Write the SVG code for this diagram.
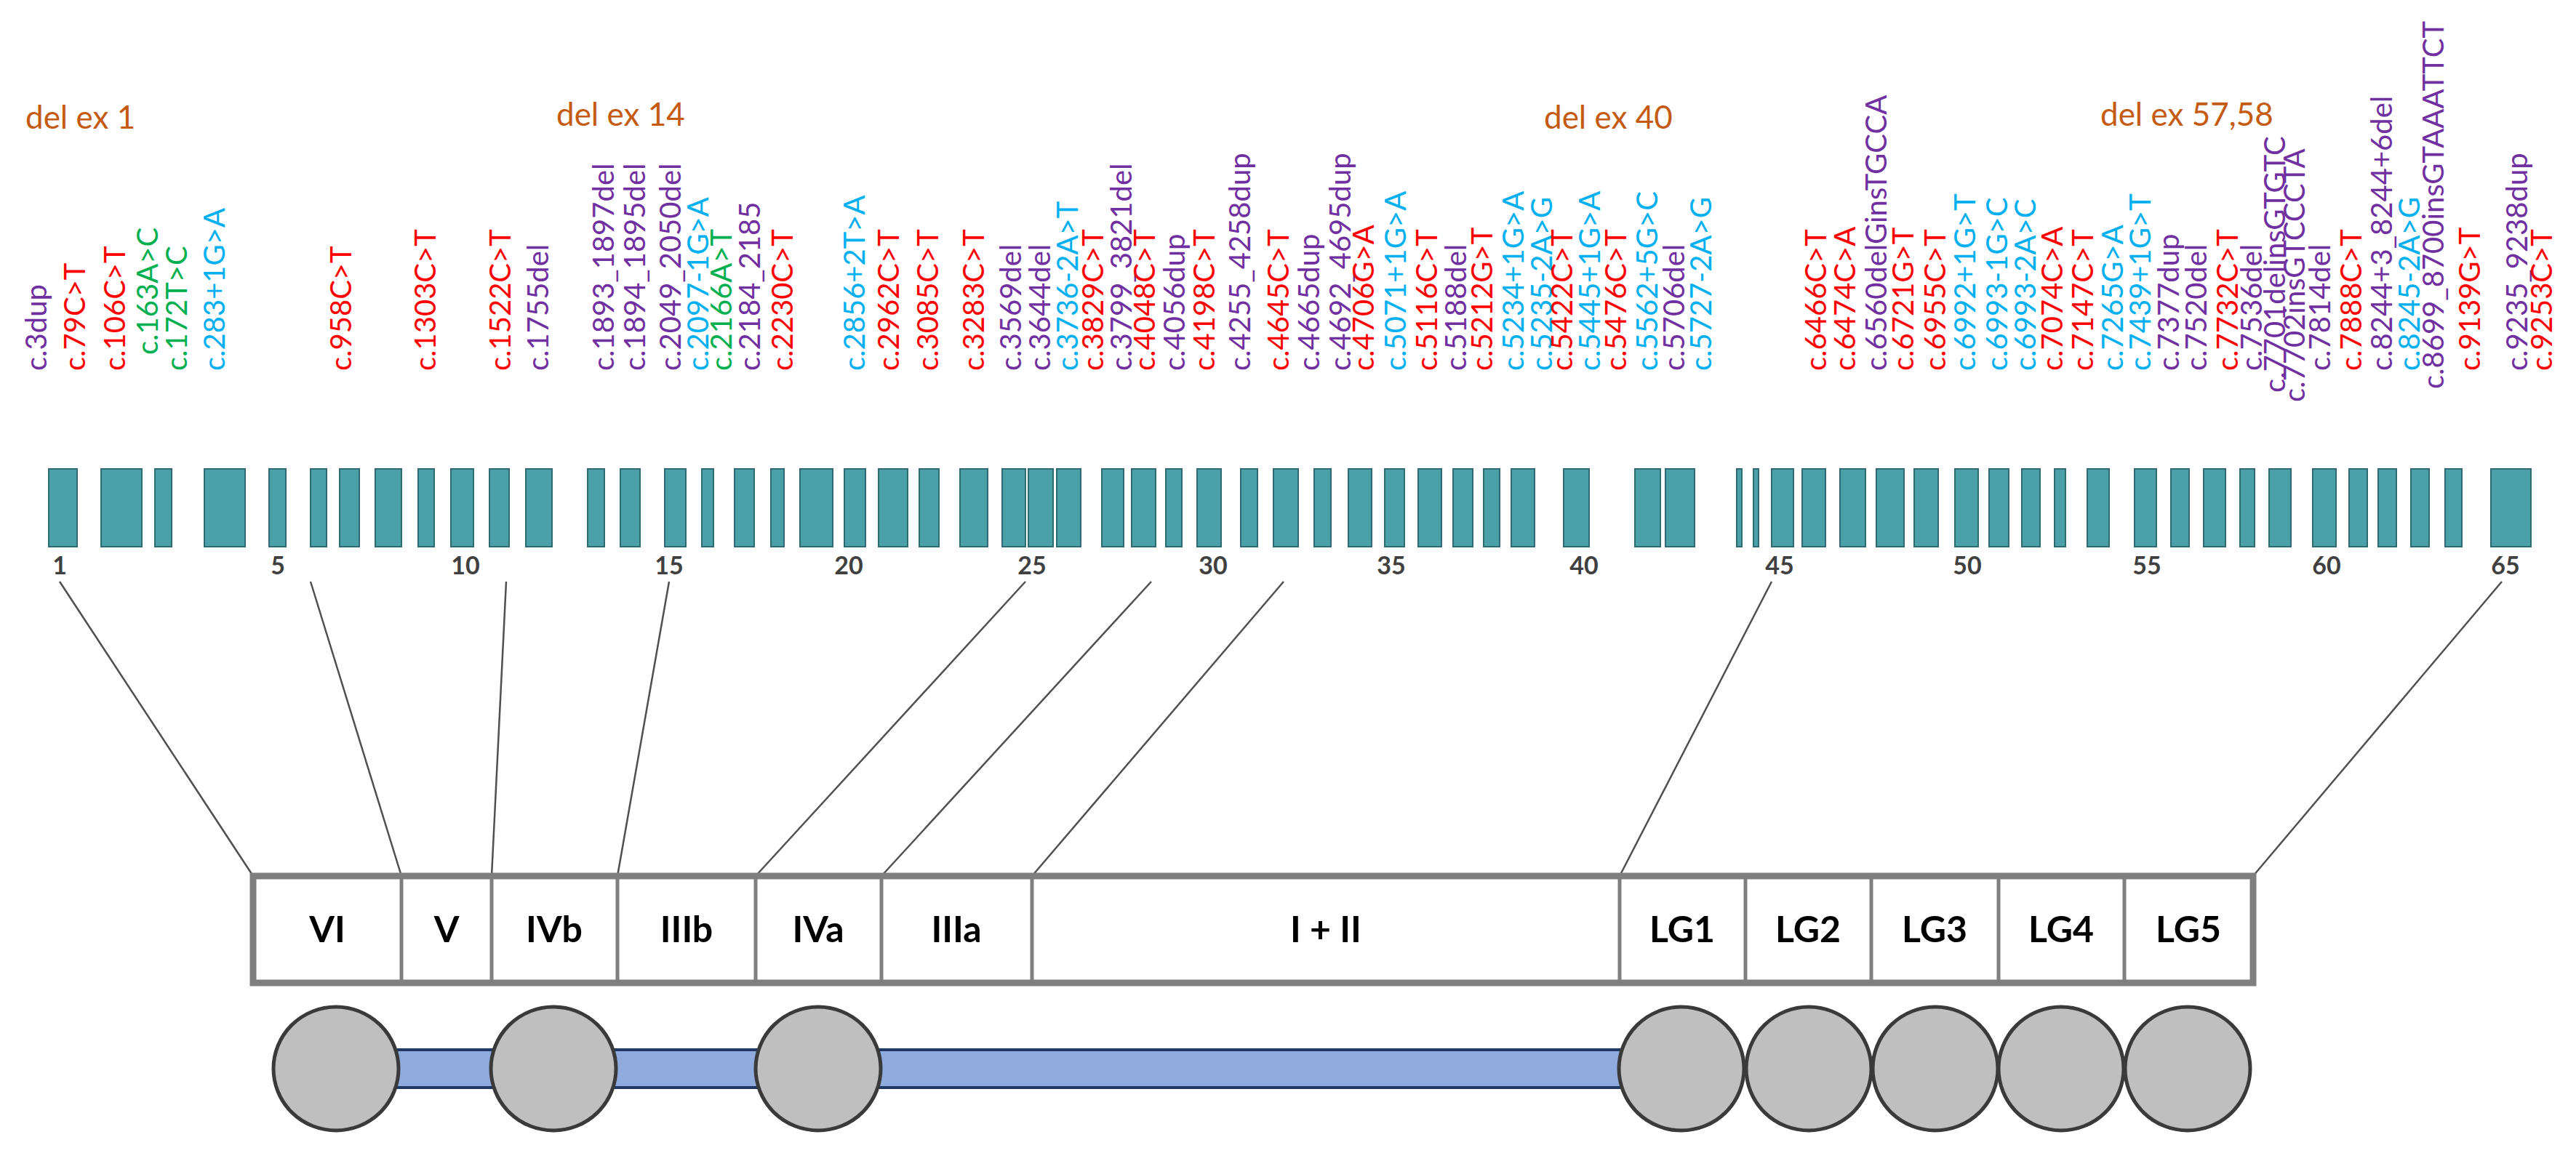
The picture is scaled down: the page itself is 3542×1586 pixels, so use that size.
<svg xmlns="http://www.w3.org/2000/svg" width="3542" height="1586" viewBox="0 0 3542 1586">
<style>
.lab{font-family:Lato,"Open Sans","Liberation Sans",sans-serif;font-size:40px}
.r{fill:#FF0000}.p{fill:#7030A0}.g{fill:#00B050}.c{fill:#00B0F0}
.dx{font-family:Lato,"Open Sans","Liberation Sans",sans-serif;font-size:44px;fill:#C55A11}
.ex{fill:#4BA0AA;stroke:#2F6B72;stroke-width:2}
.num{font-family:Lato,"Liberation Sans",sans-serif;font-size:34px;font-weight:bold;fill:#404040;text-anchor:middle}
.con{stroke:#505050;stroke-width:2.5;fill:none}
.dom{font-family:Lato,"Liberation Sans",sans-serif;font-size:50px;font-weight:bold;fill:#000;text-anchor:middle}
.div{stroke:#7F7F7F;stroke-width:5}
.ell{fill:#BFBFBF;stroke:#3A3A3A;stroke-width:5}
</style>
<rect width="3542" height="1586" fill="#fff"/>
<g id="deletions">
<text class="dx" x="35" y="177">del ex 1</text>
<text class="dx" x="765" y="173">del ex 14</text>
<text class="dx" x="2123" y="177">del ex 40</text>
<text class="dx" x="2888" y="173">del ex 57,58</text>
</g>
<g id="variants" class="lab">
<text class="p" transform="translate(64,510) rotate(-90)">c.3dup</text>
<text class="r" transform="translate(117,510) rotate(-90)">c.79C&gt;T</text>
<text class="r" transform="translate(172,510) rotate(-90)">c.106C&gt;T</text>
<text class="g" transform="translate(217,488) rotate(-90)">c.163A&gt;C</text>
<text class="g" transform="translate(257,510) rotate(-90)">c.172T&gt;C</text>
<text class="c" transform="translate(309,510) rotate(-90)">c.283+1G&gt;A</text>
<text class="r" transform="translate(483,510) rotate(-90)">c.958C&gt;T</text>
<text class="r" transform="translate(599,510) rotate(-90)">c.1303C&gt;T</text>
<text class="r" transform="translate(702,510) rotate(-90)">c.1522C&gt;T</text>
<text class="p" transform="translate(754,510) rotate(-90)">c.1755del</text>
<text class="p" transform="translate(844,510) rotate(-90)">c.1893_1897del</text>
<text class="p" transform="translate(887,510) rotate(-90)">c.1894_1895del</text>
<text class="p" transform="translate(936,510) rotate(-90)">c.2049_2050del</text>
<text class="c" transform="translate(974,510) rotate(-90)">c.2097-1G&gt;A</text>
<text class="g" transform="translate(1006,510) rotate(-90)">c.2166A&gt;T</text>
<text class="p" transform="translate(1045,510) rotate(-90)">c.2184_2185</text>
<text class="r" transform="translate(1090,510) rotate(-90)">c.2230C&gt;T</text>
<text class="c" transform="translate(1189,510) rotate(-90)">c.2856+2T&gt;A</text>
<text class="r" transform="translate(1236,510) rotate(-90)">c.2962C&gt;T</text>
<text class="r" transform="translate(1290,510) rotate(-90)">c.3085C&gt;T</text>
<text class="r" transform="translate(1353,510) rotate(-90)">c.3283C&gt;T</text>
<text class="p" transform="translate(1404,510) rotate(-90)">c.3569del</text>
<text class="p" transform="translate(1444,510) rotate(-90)">c.3644del</text>
<text class="c" transform="translate(1482,510) rotate(-90)">c.3736-2A&gt;T</text>
<text class="r" transform="translate(1517,510) rotate(-90)">c.3829C&gt;T</text>
<text class="p" transform="translate(1556,510) rotate(-90)">c.3799_3821del</text>
<text class="r" transform="translate(1588,510) rotate(-90)">c.4048C&gt;T</text>
<text class="p" transform="translate(1629,510) rotate(-90)">c.4056dup</text>
<text class="r" transform="translate(1670,510) rotate(-90)">c.4198C&gt;T</text>
<text class="p" transform="translate(1719,510) rotate(-90)">c.4255_4258dup</text>
<text class="r" transform="translate(1772,510) rotate(-90)">c.4645C&gt;T</text>
<text class="p" transform="translate(1814,510) rotate(-90)">c.4665dup</text>
<text class="p" transform="translate(1857,510) rotate(-90)">c.4692_4695dup</text>
<text class="r" transform="translate(1889,510) rotate(-90)">c.4706G&gt;A</text>
<text class="c" transform="translate(1933,510) rotate(-90)">c.5071+1G&gt;A</text>
<text class="r" transform="translate(1976,510) rotate(-90)">c.5116C&gt;T</text>
<text class="p" transform="translate(2016,510) rotate(-90)">c.5188del</text>
<text class="r" transform="translate(2052,510) rotate(-90)">c.5212G&gt;T</text>
<text class="c" transform="translate(2095,510) rotate(-90)">c.5234+1G&gt;A</text>
<text class="c" transform="translate(2134,510) rotate(-90)">c.5235-2A&gt;G</text>
<text class="r" transform="translate(2162,510) rotate(-90)">c.5422C&gt;T</text>
<text class="c" transform="translate(2200,510) rotate(-90)">c.5445+1G&gt;A</text>
<text class="r" transform="translate(2236,510) rotate(-90)">c.5476C&gt;T</text>
<text class="c" transform="translate(2279,510) rotate(-90)">c.5562+5G&gt;C</text>
<text class="p" transform="translate(2316,510) rotate(-90)">c.5706del</text>
<text class="c" transform="translate(2353,510) rotate(-90)">c.5727-2A&gt;G</text>
<text class="r" transform="translate(2511,510) rotate(-90)">c.6466C&gt;T</text>
<text class="r" transform="translate(2551,510) rotate(-90)">c.6474C&gt;A</text>
<text class="p" transform="translate(2594,510) rotate(-90)">c.6560delGinsTGCCA</text>
<text class="r" transform="translate(2631,510) rotate(-90)">c.6721G&gt;T</text>
<text class="r" transform="translate(2675,510) rotate(-90)">c.6955C&gt;T</text>
<text class="c" transform="translate(2716,510) rotate(-90)">c.6992+1G&gt;T</text>
<text class="c" transform="translate(2760,510) rotate(-90)">c.6993-1G&gt;C</text>
<text class="c" transform="translate(2799,510) rotate(-90)">c.6993-2A&gt;C</text>
<text class="r" transform="translate(2836,510) rotate(-90)">c.7074C&gt;A</text>
<text class="r" transform="translate(2878,510) rotate(-90)">c.7147C&gt;T</text>
<text class="c" transform="translate(2919,510) rotate(-90)">c.7265G&gt;A</text>
<text class="c" transform="translate(2957,510) rotate(-90)">c.7439+1G&gt;T</text>
<text class="p" transform="translate(2996,510) rotate(-90)">c.7377dup</text>
<text class="p" transform="translate(3034,510) rotate(-90)">c.7520del</text>
<text class="r" transform="translate(3077,510) rotate(-90)">c.7732C&gt;T</text>
<text class="p" transform="translate(3110,510) rotate(-90)">c.7536del</text>
<text class="p" transform="translate(3142,540) rotate(-90)">c.7701delinsGTGTC</text>
<text class="p" transform="translate(3169,553) rotate(-90)">c.7702insGTCCCTA</text>
<text class="p" transform="translate(3204,510) rotate(-90)">c.7814del</text>
<text class="r" transform="translate(3247,510) rotate(-90)">c.7888C&gt;T</text>
<text class="p" transform="translate(3289,510) rotate(-90)">c.8244+3_8244+6del</text>
<text class="c" transform="translate(3327,510) rotate(-90)">c.8245-2A&gt;G</text>
<text class="p" transform="translate(3360,535) rotate(-90)">c.8699_8700insGTAAATTCT</text>
<text class="r" transform="translate(3410,510) rotate(-90)">c.9139G&gt;T</text>
<text class="p" transform="translate(3475,510) rotate(-90)">c.9235_9238dup</text>
<text class="r" transform="translate(3509,510) rotate(-90)">c.9253C&gt;T</text>
</g>
<g id="exons">
<rect class="ex" x="67" y="645" width="39" height="107"/>
<rect class="ex" x="139" y="645" width="56" height="107"/>
<rect class="ex" x="213" y="645" width="23" height="107"/>
<rect class="ex" x="281" y="645" width="56" height="107"/>
<rect class="ex" x="370" y="645" width="23" height="107"/>
<rect class="ex" x="427" y="645" width="22" height="107"/>
<rect class="ex" x="467" y="645" width="27" height="107"/>
<rect class="ex" x="516" y="645" width="36" height="107"/>
<rect class="ex" x="575" y="645" width="22" height="107"/>
<rect class="ex" x="620" y="645" width="31" height="107"/>
<rect class="ex" x="673" y="645" width="27" height="107"/>
<rect class="ex" x="723" y="645" width="36" height="107"/>
<rect class="ex" x="808" y="645" width="23" height="107"/>
<rect class="ex" x="853" y="645" width="27" height="107"/>
<rect class="ex" x="914" y="645" width="29" height="107"/>
<rect class="ex" x="965" y="645" width="16" height="107"/>
<rect class="ex" x="1010" y="645" width="27" height="107"/>
<rect class="ex" x="1060" y="645" width="18" height="107"/>
<rect class="ex" x="1100" y="645" width="45" height="107"/>
<rect class="ex" x="1161" y="645" width="29" height="107"/>
<rect class="ex" x="1208" y="645" width="40" height="107"/>
<rect class="ex" x="1264" y="645" width="27" height="107"/>
<rect class="ex" x="1320" y="645" width="38" height="107"/>
<rect class="ex" x="1378" y="645" width="32" height="107"/>
<rect class="ex" x="1414" y="645" width="34" height="107"/>
<rect class="ex" x="1453" y="645" width="33" height="107"/>
<rect class="ex" x="1515" y="645" width="30" height="107"/>
<rect class="ex" x="1556" y="645" width="33" height="107"/>
<rect class="ex" x="1603" y="645" width="22" height="107"/>
<rect class="ex" x="1646" y="645" width="33" height="107"/>
<rect class="ex" x="1706" y="645" width="23" height="107"/>
<rect class="ex" x="1751" y="645" width="34" height="107"/>
<rect class="ex" x="1807" y="645" width="23" height="107"/>
<rect class="ex" x="1854" y="645" width="32" height="107"/>
<rect class="ex" x="1904" y="645" width="27" height="107"/>
<rect class="ex" x="1950" y="645" width="32" height="107"/>
<rect class="ex" x="1998" y="645" width="27" height="107"/>
<rect class="ex" x="2040" y="645" width="22" height="107"/>
<rect class="ex" x="2078" y="645" width="32" height="107"/>
<rect class="ex" x="2150" y="645" width="35" height="107"/>
<rect class="ex" x="2248" y="645" width="35" height="107"/>
<rect class="ex" x="2290" y="645" width="40" height="107"/>
<rect class="ex" x="2388" y="645" width="7" height="107"/>
<rect class="ex" x="2411" y="645" width="7" height="107"/>
<rect class="ex" x="2436" y="645" width="30" height="107"/>
<rect class="ex" x="2478" y="645" width="32" height="107"/>
<rect class="ex" x="2530" y="645" width="35" height="107"/>
<rect class="ex" x="2580" y="645" width="38" height="107"/>
<rect class="ex" x="2632" y="645" width="33" height="107"/>
<rect class="ex" x="2688" y="645" width="32" height="107"/>
<rect class="ex" x="2735" y="645" width="27" height="107"/>
<rect class="ex" x="2780" y="645" width="25" height="107"/>
<rect class="ex" x="2825" y="645" width="15" height="107"/>
<rect class="ex" x="2870" y="645" width="30" height="107"/>
<rect class="ex" x="2935" y="645" width="30" height="107"/>
<rect class="ex" x="2985" y="645" width="25" height="107"/>
<rect class="ex" x="3030" y="645" width="30" height="107"/>
<rect class="ex" x="3080" y="645" width="20" height="107"/>
<rect class="ex" x="3120" y="645" width="30" height="107"/>
<rect class="ex" x="3180" y="645" width="32" height="107"/>
<rect class="ex" x="3230" y="645" width="25" height="107"/>
<rect class="ex" x="3270" y="645" width="25" height="107"/>
<rect class="ex" x="3315" y="645" width="25" height="107"/>
<rect class="ex" x="3362" y="645" width="23" height="107"/>
<rect class="ex" x="3425" y="645" width="55" height="107"/>
</g>
<g id="exon-numbers">
<text class="num" x="82" y="790">1</text>
<text class="num" x="382" y="790">5</text>
<text class="num" x="640" y="790">10</text>
<text class="num" x="920" y="790">15</text>
<text class="num" x="1167" y="790">20</text>
<text class="num" x="1419" y="790">25</text>
<text class="num" x="1668" y="790">30</text>
<text class="num" x="1913" y="790">35</text>
<text class="num" x="2178" y="790">40</text>
<text class="num" x="2447" y="790">45</text>
<text class="num" x="2705" y="790">50</text>
<text class="num" x="2952" y="790">55</text>
<text class="num" x="3199" y="790">60</text>
<text class="num" x="3445" y="790">65</text>
</g>
<g id="connectors">
<line class="con" x1="82" y1="800" x2="348" y2="1205"/>
<line class="con" x1="427" y1="800" x2="552" y2="1205"/>
<line class="con" x1="696" y1="800" x2="676" y2="1205"/>
<line class="con" x1="920" y1="800" x2="849" y2="1205"/>
<line class="con" x1="1410" y1="800" x2="1039" y2="1205"/>
<line class="con" x1="1583" y1="800" x2="1212" y2="1205"/>
<line class="con" x1="1765" y1="800" x2="1419" y2="1205"/>
<line class="con" x1="2436" y1="800" x2="2227" y2="1205"/>
<line class="con" x1="3440" y1="800" x2="3098" y2="1205"/>
</g>
<g id="domains">
<rect x="348" y="1205" width="2750" height="147" fill="#fff" stroke="#7F7F7F" stroke-width="9"/>
<line class="div" x1="552" y1="1205" x2="552" y2="1352"/>
<line class="div" x1="676" y1="1205" x2="676" y2="1352"/>
<line class="div" x1="849" y1="1205" x2="849" y2="1352"/>
<line class="div" x1="1039" y1="1205" x2="1039" y2="1352"/>
<line class="div" x1="1212" y1="1205" x2="1212" y2="1352"/>
<line class="div" x1="1419" y1="1205" x2="1419" y2="1352"/>
<line class="div" x1="2227" y1="1205" x2="2227" y2="1352"/>
<line class="div" x1="2400" y1="1205" x2="2400" y2="1352"/>
<line class="div" x1="2573" y1="1205" x2="2573" y2="1352"/>
<line class="div" x1="2748" y1="1205" x2="2748" y2="1352"/>
<line class="div" x1="2921" y1="1205" x2="2921" y2="1352"/>
<g id="d-VI"><text class="dom" x="450" y="1296">VI</text></g>
<g id="d-V"><text class="dom" x="614" y="1296">V</text></g>
<g id="d-IVb"><text class="dom" x="762" y="1296">IVb</text></g>
<g id="d-IIIb"><text class="dom" x="944" y="1296">IIIb</text></g>
<g id="d-IVa"><text class="dom" x="1125" y="1296">IVa</text></g>
<g id="d-IIIa"><text class="dom" x="1315" y="1296">IIIa</text></g>
<g id="d-I-II"><text class="dom" x="1823" y="1296">I + II</text></g>
<g id="d-LG1"><text class="dom" x="2313" y="1296">LG1</text></g>
<g id="d-LG2"><text class="dom" x="2486" y="1296">LG2</text></g>
<g id="d-LG3"><text class="dom" x="2660" y="1296">LG3</text></g>
<g id="d-LG4"><text class="dom" x="2834" y="1296">LG4</text></g>
<g id="d-LG5"><text class="dom" x="3009" y="1296">LG5</text></g>
</g>
<g id="protein">
<rect x="462" y="1444" width="1850" height="52" fill="#8FAADC" stroke="#1F3864" stroke-width="4"/>
<ellipse class="ell" cx="462" cy="1470" rx="86" ry="85"/>
<ellipse class="ell" cx="761" cy="1470" rx="86" ry="85"/>
<ellipse class="ell" cx="1125" cy="1470" rx="86" ry="85"/>
<ellipse class="ell" cx="2312" cy="1470" rx="86" ry="85"/>
<ellipse class="ell" cx="2487" cy="1470" rx="86" ry="85"/>
<ellipse class="ell" cx="2661" cy="1470" rx="86" ry="85"/>
<ellipse class="ell" cx="2834" cy="1470" rx="86" ry="85"/>
<ellipse class="ell" cx="3008" cy="1470" rx="86" ry="85"/>
</g>
</svg>
